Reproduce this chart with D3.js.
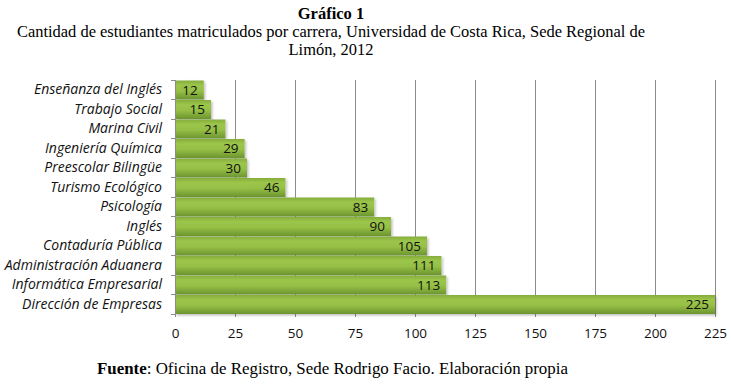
<!DOCTYPE html>
<html><head><meta charset="utf-8">
<script src="https://cdn.jsdelivr.net/npm/d3@7"></script>
<style>body{margin:0;background:#fff}svg{display:block}</style>
</head><body>
<svg id="c" width="731" height="392"></svg>
<script>
const categories = ["Enseñanza del Inglés","Trabajo Social","Marina Civil","Ingeniería Química","Preescolar Bilingüe","Turismo Ecológico","Psicología","Inglés","Contaduría Pública","Administración Aduanera","Informática Empresarial","Dirección de Empresas"];
const values = [12,15,21,29,30,46,83,90,105,111,113,225];
const xTicks = [0,25,50,75,100,125,150,175,200,225];
const titleText = "Gráfico 1";
const subtitleLines = ["Cantidad de estudiantes matriculados por carrera, Universidad de Costa Rica, Sede Regional de","Limón, 2012"];

(function(){
const svg = d3.select("#c");
const pL = 175, pR = 715, pT = 80, pB = 314;
const x = d3.scaleLinear().domain([0,225]).range([pL,pR]);
const y = d3.scaleBand().domain(categories).range([pT,pB]).paddingInner(0).paddingOuter(0);
const sans = "'Open Sans',Lato,sans-serif";
const serif = "'Liberation Serif','Times New Roman',serif";

const defs = svg.append("defs");
const g = defs.append("linearGradient").attr("id","bg").attr("x1",0).attr("y1",0).attr("x2",0).attr("y2",1);
g.append("stop").attr("offset","0%").attr("stop-color","#86ad3c");
g.append("stop").attr("offset","25%").attr("stop-color","#9cc64b");
g.append("stop").attr("offset","55%").attr("stop-color","#95bf45");
g.append("stop").attr("offset","100%").attr("stop-color","#6c9430");
const f = defs.append("filter").attr("id","sh").attr("x","-5%").attr("y","-20%").attr("width","115%").attr("height","150%");
f.append("feDropShadow").attr("dx",1.5).attr("dy",1.5).attr("stdDeviation",1).attr("flood-color","#000").attr("flood-opacity",0.25);

svg.append("text").attr("x",331).attr("y",19).attr("text-anchor","middle")
  .style("font-family",serif).style("font-weight","bold").style("font-size","16.5px").text(titleText);
subtitleLines.forEach((t,i)=>{
  svg.append("text").attr("x",331).attr("y",37+i*18).attr("text-anchor","middle")
   .style("font-family",serif).style("font-size","16.45px").text(t);
});

svg.append("g").selectAll("line").data(xTicks.filter(d=>d>0)).join("line")
  .attr("x1",d=>x(d)).attr("x2",d=>x(d)).attr("y1",pT).attr("y2",pB+3)
  .attr("stroke","#8c8c8c").attr("stroke-width",1).attr("shape-rendering","crispEdges");

svg.append("g").selectAll("rect").data(values).join("rect")
  .attr("x",x(0)).attr("y",(d,i)=>y(categories[i])+0.5).attr("width",d=>x(d)-x(0)).attr("height",y.bandwidth()-0.5)
  .attr("fill","url(#bg)").attr("filter","url(#sh)");

svg.append("g").selectAll("text").data(values).join("text")
  .attr("x",d=>x(d)-6).attr("y",(d,i)=>y(categories[i])+y.bandwidth()/2+5)
  .attr("text-anchor","end").style("font-family",sans).style("font-size","13.5px").attr("fill","#111")
  .text(d=>d);

const ya = d3.axisLeft(y).tickSize(0).tickPadding(13);
const yg = svg.append("g").attr("transform",`translate(${pL},0)`).call(ya);
yg.select(".domain").remove();
yg.selectAll("text").style("font-family",sans).style("font-style","italic").style("font-size","14px").attr("fill","#111");
svg.append("line").attr("x1",pL).attr("x2",pL).attr("y1",pT).attr("y2",pB).attr("stroke","#8c8c8c").attr("shape-rendering","crispEdges");
const bounds = d3.range(categories.length+1).map(i=>pT+i*y.step());
svg.append("g").selectAll("line").data(bounds).join("line")
  .attr("x1",pL-4).attr("x2",pL).attr("y1",d=>d).attr("y2",d=>d).attr("stroke","#8c8c8c").attr("shape-rendering","crispEdges");
svg.append("line").attr("x1",pL).attr("x2",pL).attr("y1",pB).attr("y2",pB+3).attr("stroke","#8c8c8c").attr("shape-rendering","crispEdges");

const xa = d3.axisBottom(x).tickValues(xTicks).tickSize(0).tickPadding(14);
const xg = svg.append("g").attr("transform",`translate(0,${pB})`).call(xa);
xg.select(".domain").remove();
xg.selectAll("text").style("font-family",sans).style("font-size","13.5px").attr("fill","#111");

const ft = svg.append("text").attr("x",97).attr("y",374).style("font-family",serif).style("font-size","16.9px");
ft.append("tspan").style("font-weight","bold").text("Fuente");
ft.append("tspan").text(": Oficina de Registro, Sede Rodrigo Facio. Elaboración propia");
})();
</script>
</body></html>
